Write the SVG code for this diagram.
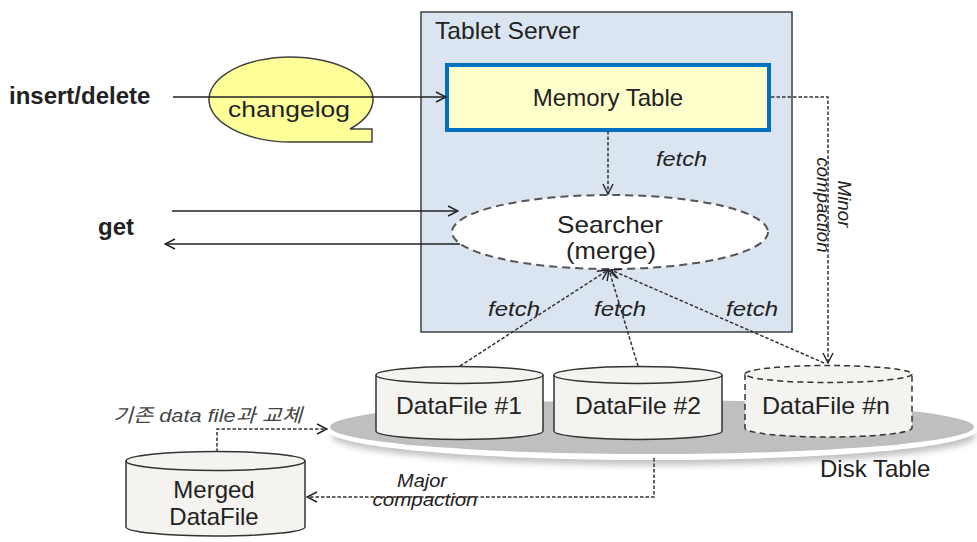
<svg xmlns="http://www.w3.org/2000/svg" width="977" height="542" viewBox="0 0 977 542">
<defs>
<style>
text{font-family:"Liberation Sans",Arial,sans-serif;fill:#222}
.lbl{font-size:24px}
.bold{font-weight:bold}
.it{font-style:italic}
.cyl{fill:#f4f3ef;stroke:#333;stroke-width:1.5}
.dash{stroke-dasharray:6 4}
.conn{fill:none;stroke:#222;stroke-width:1.3}
.dconn{fill:none;stroke:#333;stroke-width:1.5;stroke-dasharray:3.5 2}
.mid{text-anchor:middle}
</style>
<marker id="ah" viewBox="0 0 12 12" refX="11" refY="6" markerWidth="12" markerHeight="12" markerUnits="userSpaceOnUse" orient="auto">
<path d="M1,1 L11,6 L1,11" fill="none" stroke="#222" stroke-width="1.4"/>
</marker>
<filter id="blur" x="-10%" y="-50%" width="120%" height="200%"><feGaussianBlur stdDeviation="3"/></filter>
</defs>

<g id="tablet-server">
<rect x="421" y="12" width="371" height="320" fill="#dbe5f1" stroke="#404040" stroke-width="1.5"/>
<text class="lbl" x="435" y="39" font-size="22" textLength="145" lengthAdjust="spacingAndGlyphs">Tablet Server</text>
</g>

<g id="memory-table">
<rect x="447" y="65" width="322" height="65" fill="#ffffcc" stroke="#0070c0" stroke-width="4"/>
<text class="lbl mid" x="608" y="106">Memory Table</text>
</g>

<g id="searcher">
<ellipse cx="610" cy="232" rx="158" ry="37" fill="#fff" stroke="#555" stroke-width="2" stroke-dasharray="8 5"/>
<text class="lbl mid" x="610" y="233" textLength="106" lengthAdjust="spacingAndGlyphs">Searcher</text>
<text class="lbl mid" x="611" y="259" textLength="90" lengthAdjust="spacingAndGlyphs">(merge)</text>
</g>

<g id="changelog">
<path d="M350,129 L372,129 L372,142 L291,142 A82 42.5 0 1 1 350,129 Z" fill="#ffff99" stroke="#404040" stroke-width="1.5"/>
<text x="228" y="117" font-size="22" textLength="122" lengthAdjust="spacingAndGlyphs">changelog</text>
</g>

<g id="disk-table">
<ellipse cx="654" cy="436" rx="322" ry="29" fill="#999" opacity="0.6" filter="url(#blur)"/>
<ellipse cx="652" cy="430" rx="325" ry="30" fill="#fff"/>
<ellipse cx="652" cy="427" rx="322" ry="27" fill="#bfbfbf"/>
<text class="lbl" x="820" y="477">Disk Table</text>
</g>

<g id="datafile-1">
<path class="cyl" d="M376,375 V431 A83.5 8.5 0 0 0 543,431 V375"/>
<ellipse class="cyl" cx="459.5" cy="375" rx="83.5" ry="8.5"/>
<text class="lbl mid" x="459" y="414" textLength="126" lengthAdjust="spacingAndGlyphs">DataFile #1</text>
</g>

<g id="datafile-2">
<path class="cyl" d="M554,375 V431 A84 8.5 0 0 0 722,431 V375"/>
<ellipse class="cyl" cx="638" cy="375" rx="84" ry="8.5"/>
<text class="lbl mid" x="638" y="414" textLength="126" lengthAdjust="spacingAndGlyphs">DataFile #2</text>
</g>

<g id="datafile-n">
<path class="cyl dash" d="M745,374 V428 A83.5 9 0 0 0 912,428 V374"/>
<ellipse class="cyl dash" cx="828.5" cy="374" rx="83.5" ry="8.5"/>
<text class="lbl mid" x="826" y="414" textLength="128" lengthAdjust="spacingAndGlyphs">DataFile #n</text>
</g>

<g id="merged-datafile">
<path class="cyl" d="M126,461 V527 A89.5 9 0 0 0 305,527 V461"/>
<ellipse class="cyl" cx="215.5" cy="461" rx="89.5" ry="9.5"/>
<text class="lbl mid" x="214" y="498">Merged</text>
<text class="lbl mid" x="214" y="525">DataFile</text>
</g>

<g id="labels">
<text class="lbl bold" x="9" y="104">insert/delete</text>
<text class="lbl bold" x="98" y="235">get</text>
<text class="it" x="656" y="166" font-size="21" textLength="51" lengthAdjust="spacingAndGlyphs">fetch</text>
<text class="it" x="488" y="316" font-size="21" textLength="52" lengthAdjust="spacingAndGlyphs">fetch</text>
<text class="it" x="594" y="316" font-size="21" textLength="52" lengthAdjust="spacingAndGlyphs">fetch</text>
<text class="it" x="726" y="316" font-size="21" textLength="52" lengthAdjust="spacingAndGlyphs">fetch</text>
<text class="it mid" transform="translate(838,204) rotate(90)" font-size="18" textLength="47" lengthAdjust="spacingAndGlyphs">Minor</text>
<text class="it mid" transform="translate(817,205) rotate(90)" font-size="18" textLength="95" lengthAdjust="spacingAndGlyphs">compaction</text>
<text class="it mid" x="422" y="487" font-size="19" textLength="50" lengthAdjust="spacingAndGlyphs">Major</text>
<text class="it mid" x="425" y="506" font-size="19" textLength="105" lengthAdjust="spacingAndGlyphs">compaction</text>
<text class="it" x="113" y="422" font-size="19" textLength="189" lengthAdjust="spacingAndGlyphs" style="font-family:'Liberation Sans','Noto Sans CJK KR',sans-serif;fill:#444">기존 data file과 교체</text>
</g>

<g id="connectors">
<path class="conn" d="M173,97 H446" marker-end="url(#ah)"/>
<path class="conn" d="M172,211 H458" marker-end="url(#ah)"/>
<path class="conn" d="M460,244 H165" marker-end="url(#ah)"/>
<path class="dconn" d="M608,131 V194" marker-end="url(#ah)"/>
<path class="dconn" d="M460,366 L608,270" marker-end="url(#ah)"/>
<path class="dconn" d="M638,366 L609,270" marker-end="url(#ah)"/>
<path class="dconn" d="M824,363 L611,270" marker-end="url(#ah)"/>
<path class="dconn" d="M771,97 H828 V363" marker-end="url(#ah)"/>
<path class="dconn" d="M654,458 V497 H307" marker-end="url(#ah)"/>
<path class="dconn" d="M217,452 V429 H327" marker-end="url(#ah)"/>
</g>
</svg>
